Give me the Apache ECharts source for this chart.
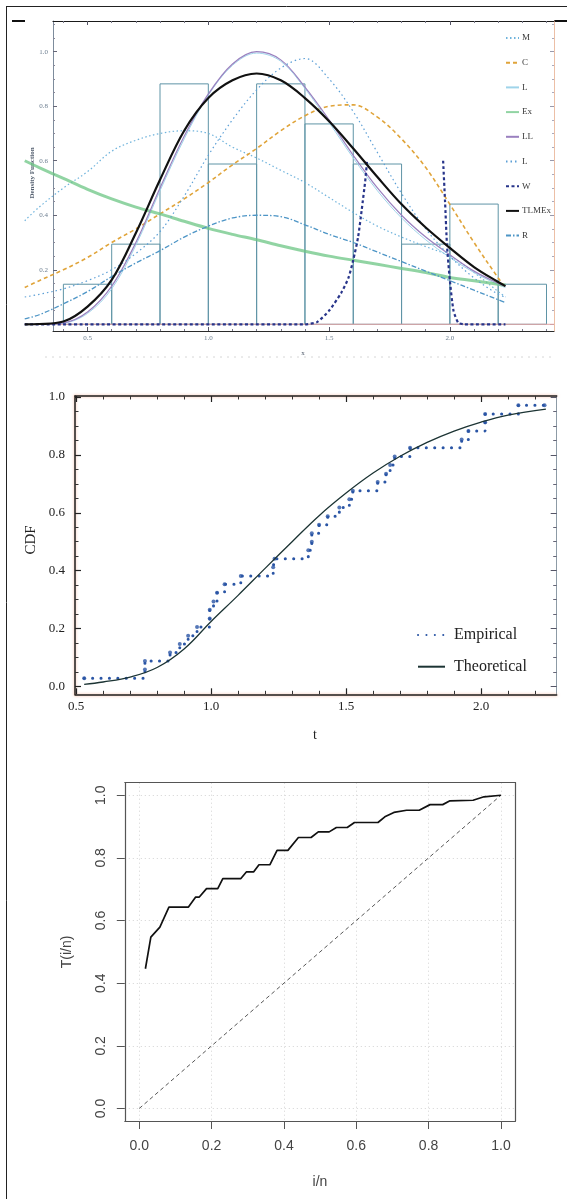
<!DOCTYPE html>
<html>
<head>
<meta charset="utf-8">
<script src="https://cdn.jsdelivr.net/npm/echarts@6/dist/echarts.min.js"></script>
<style>
  html, body { margin: 0; padding: 0; background: #fff; }
  #chart { width: 567px; height: 1199px; }
</style>
</head>
<body>
<div id="chart"></div>
<script>
// ---------------- Panel 1: fitted densities over the histogram ----------------
const binEdges   = [0.4, 0.6, 0.8, 1.0, 1.2, 1.4, 1.6, 1.8, 2.0, 2.2, 2.4];
const binDensity = [0.147, 0.294, 0.882, 0.588, 0.882, 0.735, 0.588, 0.294, 0.441, 0.147];

const densX     = [0.24, 0.3, 0.4, 0.5, 0.6, 0.7, 0.8, 0.9, 1.0, 1.1, 1.2, 1.3, 1.4, 1.5, 1.6, 1.7, 1.8, 1.9, 2.0, 2.1, 2.2, 2.23];
const densM     = [0.38, 0.43, 0.5, 0.56, 0.635, 0.675, 0.70, 0.71, 0.70, 0.65, 0.61, 0.565, 0.52, 0.465, 0.41, 0.36, 0.32, 0.285, 0.25, 0.19, 0.12, 0.10];
const densC     = [0.135, 0.16, 0.2, 0.245, 0.3, 0.35, 0.405, 0.46, 0.52, 0.585, 0.645, 0.71, 0.765, 0.80, 0.805, 0.76, 0.68, 0.575, 0.44, 0.30, 0.17, 0.135];
const densL     = [0.0, 0.0, 0.004, 0.04, 0.13, 0.29, 0.49, 0.68, 0.84, 0.95, 0.995, 0.965, 0.865, 0.74, 0.61, 0.49, 0.39, 0.31, 0.245, 0.19, 0.145, 0.135];
const densEx    = [0.6, 0.575, 0.535, 0.495, 0.46, 0.43, 0.405, 0.378, 0.352, 0.33, 0.31, 0.288, 0.268, 0.25, 0.235, 0.22, 0.205, 0.19, 0.172, 0.16, 0.147, 0.144];
const densLL    = [0.0, 0.0, 0.005, 0.045, 0.14, 0.30, 0.50, 0.69, 0.845, 0.955, 1.0, 0.97, 0.87, 0.75, 0.62, 0.50, 0.40, 0.32, 0.255, 0.195, 0.15, 0.14];
const densL2    = [0.10, 0.11, 0.13, 0.16, 0.20, 0.26, 0.34, 0.47, 0.62, 0.75, 0.86, 0.94, 0.975, 0.90, 0.78, 0.63, 0.48, 0.35, 0.25, 0.17, 0.11, 0.10];
const densTLMEx = [0.0, 0.001, 0.01, 0.065, 0.163, 0.335, 0.53, 0.71, 0.83, 0.895, 0.92, 0.895, 0.83, 0.745, 0.645, 0.54, 0.44, 0.355, 0.28, 0.21, 0.155, 0.14];
const densR     = [0.02, 0.035, 0.075, 0.12, 0.175, 0.225, 0.27, 0.32, 0.36, 0.39, 0.40, 0.395, 0.365, 0.33, 0.30, 0.265, 0.23, 0.195, 0.16, 0.125, 0.09, 0.08];

// Weibull fit: the parts above its own plot range are not drawn (null gap)
const wX = [0.24, 1.40, 1.45, 1.50, 1.55, 1.58, 1.60, 1.62, 1.635, 1.65, 1.657, 1.80, 1.972, 1.98, 1.988, 2.0, 2.015, 2.035, 2.06, 2.23];
const wY = [0, 0, 0.008, 0.05, 0.115, 0.17, 0.236, 0.32, 0.42, 0.53, 0.60, null, 0.60, 0.45, 0.29, 0.16, 0.05, 0.005, 0, 0];

const axisX0 = [0.24, 2.431];
const axisY0 = [0, 0];

const densXMajor = [0.5, 1.0, 1.5, 2.0];
const densYMajor = [0.2, 0.4, 0.6, 0.8, 1.0];

// ---------------- Panel 2: empirical vs theoretical CDF ----------------
const empT = [0.53, 0.755, 0.755, 0.848, 0.884, 0.915, 0.948, 0.995, 0.995, 1.009, 1.022, 1.05, 1.11, 1.23, 1.235, 1.36, 1.373, 1.373, 1.40, 1.432, 1.475, 1.512, 1.525, 1.617, 1.648, 1.663, 1.68, 1.737, 1.928, 1.953, 2.015, 2.015, 2.138, 2.235];
const empF = [0.029, 0.059, 0.088, 0.118, 0.147, 0.176, 0.206, 0.235, 0.265, 0.294, 0.324, 0.353, 0.382, 0.412, 0.441, 0.471, 0.5, 0.529, 0.559, 0.588, 0.618, 0.647, 0.676, 0.706, 0.735, 0.765, 0.794, 0.824, 0.853, 0.882, 0.912, 0.941, 0.971, 0.971];

const theoT = [0.53, 0.6, 0.7, 0.8, 0.9, 1.0, 1.1, 1.2, 1.3, 1.4, 1.5, 1.6, 1.7, 1.8, 1.9, 2.0, 2.1, 2.24];
const theoF = [0.008, 0.016, 0.033, 0.066, 0.13, 0.225, 0.315, 0.408, 0.5, 0.59, 0.668, 0.737, 0.795, 0.843, 0.882, 0.913, 0.937, 0.958];

const cdfXMajor = [0.5, 1.0, 1.5, 2.0];
const cdfYMajor = [0.0, 0.2, 0.4, 0.6, 0.8, 1.0];

// ---------------- Panel 3: scaled TTT plot ----------------
const tttX = [0.017, 0.032, 0.057, 0.082, 0.136, 0.156, 0.166, 0.186, 0.217, 0.231, 0.281, 0.296, 0.316, 0.331, 0.361, 0.381, 0.411, 0.44, 0.475, 0.495, 0.525, 0.545, 0.575, 0.595, 0.66, 0.679, 0.704, 0.739, 0.774, 0.804, 0.839, 0.859, 0.923, 0.953, 1.0];
const tttY = [0.446, 0.547, 0.579, 0.643, 0.643, 0.675, 0.675, 0.702, 0.702, 0.734, 0.734, 0.755, 0.755, 0.778, 0.778, 0.824, 0.824, 0.865, 0.865, 0.883, 0.883, 0.897, 0.897, 0.913, 0.913, 0.931, 0.945, 0.952, 0.952, 0.97, 0.97, 0.982, 0.984, 0.995, 1.0];
const diagX = [0, 1];
const diagY = [0, 1];
const tttTicks = [0.0, 0.2, 0.4, 0.6, 0.8, 1.0];

// ---------------- helpers ----------------
function seq(a, b, s) {
  const r = [];
  for (let v = a; v <= b + 1e-9; v += s) r.push(+v.toFixed(4));
  return r;
}
function without(list, majors) {
  return list.filter(v => !majors.some(m => Math.abs(m - v) < 1e-6));
}
function pairs(xs, ys) { return xs.map((x, i) => [x, ys[i]]); }

function axis(grid, pos, range, s) {
  return {
    type: 'value', gridIndex: grid, position: pos, min: range[0], max: range[1], show: s.hidden ? false : true,
    axisLine: s.line ? { show: true, onZero: false, lineStyle: s.line } : { show: false, onZero: false },
    axisTick: s.ticks ? { show: true, inside: !!s.inside, length: s.len, customValues: s.ticks,
      lineStyle: { color: s.tickColor, width: s.tickWidth || 1 } } : { show: false },
    axisLabel: s.labels ? Object.assign({ show: true, customValues: s.labels,
      formatter: v => (+v).toFixed(1) }, s.labelStyle) : { show: false },
    splitLine: s.split ? { show: true, lineStyle: s.split } : { show: false },
    minorTick: { show: false }, minorSplitLine: { show: false }
  };
}

const serif = '"Liberation Serif", "DejaVu Serif", serif';
const sans = '"Liberation Sans", Arial, sans-serif';

// ranges of the coordinate frames
const X0 = [0.357, 2.431], Y0 = [-0.0246, 1.1126];
const X1 = [0.496, 2.28],  Y1 = [-0.0265, 1.003];
const X2 = [-0.04, 1.04],  Y2 = [-0.04, 1.04];
// the fitted curves start left of the framed region, so they live on a wider grid
const X3 = [0.24, 2.431];
const pxPerUnit0 = 501 / (X0[1] - X0[0]);
const curveLeft = 53 - (X0[0] - X3[0]) * pxPerUnit0;

const p1Label = { fontSize: 7, color: '#6b7d8f', fontFamily: serif };
const p2Label = { fontSize: 13, color: '#222', fontFamily: serif };
const p3Label = { fontSize: 14, color: '#444', fontFamily: sans };

const xAxes = [
  // panel 1 frame
  axis(0, 'bottom', X0, { line: { color: '#2b2b2b', width: 1 }, ticks: densXMajor, inside: true, len: 4, tickColor: '#556',
    labels: densXMajor, labelStyle: Object.assign({ margin: 4 }, p1Label) }),
  axis(0, 'bottom', X0, { ticks: without(seq(0.4, 2.4, 0.1), densXMajor), inside: true, len: 2, tickColor: '#778' }),
  axis(0, 'top', X0, { line: { color: '#1a1a1a', width: 1.2 }, ticks: densXMajor, inside: true, len: 4, tickColor: '#556' }),
  axis(0, 'top', X0, { ticks: without(seq(0.4, 2.4, 0.1), densXMajor), inside: true, len: 2, tickColor: '#778' }),
  // panel 2
  axis(1, 'bottom', X1, { line: { color: '#1e1e1e', width: 1.5, shadowColor: 'rgba(240,120,70,0.55)', shadowBlur: 3 },
    ticks: cdfXMajor, inside: true, len: 6, tickColor: '#222', tickWidth: 1.2,
    labels: cdfXMajor, labelStyle: Object.assign({ margin: 6 }, p2Label) }),
  axis(1, 'bottom', X1, { ticks: without(seq(0.5, 2.2, 0.1), cdfXMajor), inside: true, len: 3.5, tickColor: '#333' }),
  axis(1, 'top', X1, { line: { color: '#1e1e1e', width: 1.5, shadowColor: 'rgba(240,120,70,0.55)', shadowBlur: 3 },
    ticks: cdfXMajor, inside: true, len: 6, tickColor: '#222', tickWidth: 1.2 }),
  axis(1, 'top', X1, { ticks: without(seq(0.5, 2.2, 0.1), cdfXMajor), inside: true, len: 3.5, tickColor: '#333' }),
  // panel 3
  axis(2, 'bottom', X2, { line: { color: '#555', width: 1.2 }, ticks: tttTicks, inside: false, len: 8, tickColor: '#555',
    labels: tttTicks, labelStyle: Object.assign({ margin: 18 }, p3Label),
    split: { color: '#d3d3d3', width: 1, type: [1, 3] } }),
  axis(2, 'top', X2, { line: { color: '#555', width: 1.2 } }),
  // panel 1 curves (hidden axis)
  axis(3, 'bottom', X3, { hidden: true })
];

const yAxes = [
  // panel 1 frame
  axis(0, 'left', Y0, { line: { color: '#7d8c9c', width: 1 }, ticks: [0].concat(densYMajor), inside: true, len: 4, tickColor: '#667',
    labels: densYMajor, labelStyle: Object.assign({ margin: 5 }, p1Label) }),
  axis(0, 'left', Y0, { ticks: without(seq(0, 1.1, 0.05), [0].concat(densYMajor)), inside: true, len: 2, tickColor: '#889' }),
  axis(0, 'right', Y0, { line: { color: '#ecbfa6', width: 1 }, ticks: [0].concat(densYMajor), inside: true, len: 4, tickColor: '#99a' }),
  axis(0, 'right', Y0, { ticks: without(seq(0, 1.1, 0.05), [0].concat(densYMajor)), inside: true, len: 2, tickColor: '#aab' }),
  // panel 2
  axis(1, 'left', Y1, { line: { color: '#1e1e1e', width: 1.5, shadowColor: 'rgba(240,120,70,0.55)', shadowBlur: 3 },
    ticks: cdfYMajor, inside: true, len: 6, tickColor: '#222', tickWidth: 1.2,
    labels: cdfYMajor, labelStyle: Object.assign({ margin: 10 }, p2Label) }),
  axis(1, 'left', Y1, { ticks: without(seq(0, 1, 0.05), cdfYMajor), inside: true, len: 3.5, tickColor: '#333' }),
  axis(1, 'right', Y1, { line: { color: '#8d9ba6', width: 1 }, ticks: cdfYMajor, inside: true, len: 6, tickColor: '#556' }),
  axis(1, 'right', Y1, { ticks: without(seq(0, 1, 0.05), cdfYMajor), inside: true, len: 3.5, tickColor: '#667' }),
  // panel 3
  axis(2, 'left', Y2, { line: { color: '#555', width: 1.2 }, ticks: tttTicks, inside: false, len: 8, tickColor: '#555',
    labels: tttTicks, labelStyle: Object.assign({ margin: 17, rotate: 90 }, p3Label),
    split: { color: '#d3d3d3', width: 1, type: [1, 3] } }),
  axis(2, 'right', Y2, { line: { color: '#555', width: 1.2 } }),
  // panel 1 curves (hidden axis)
  axis(3, 'left', Y0, { hidden: true })
];

// fitted density curve on panel 1
function curve(name, ys, lineStyle, z) {
  return {
    type: 'line', name: name, xAxisIndex: 10, yAxisIndex: 10,
    data: pairs(densX, ys), smooth: 0.35, symbol: 'none', clip: false,
    lineStyle: lineStyle, itemStyle: { color: lineStyle.color }, z: z || 3
  };
}

const series = [
  {
    type: 'custom', xAxisIndex: 0, yAxisIndex: 0, z: 2,
    data: binDensity.map((d, i) => [binEdges[i], binEdges[i + 1], d]),
    encode: { x: [0, 1], y: 2 },
    renderItem: function (params, api) {
      const a = api.coord([api.value(0), 0]);
      const b = api.coord([api.value(1), api.value(2)]);
      return { type: 'rect', shape: { x: a[0], y: b[1], width: b[0] - a[0], height: a[1] - b[1] },
        style: { fill: 'none', stroke: '#5f94a6', lineWidth: 1 } };
    }
  },
  { type: 'line', xAxisIndex: 10, yAxisIndex: 10, data: pairs(axisX0, axisY0), symbol: 'none', clip: false,
    lineStyle: { color: '#e2a3a3', width: 1 }, z: 2, silent: true },
  curve('M', densM, { color: '#6fb3dc', width: 1.2, type: [1.5, 2.5] }),
  curve('C', densC, { color: '#e0a43a', width: 1.6, type: [4, 3] }),
  curve('L', densL, { color: '#9fd4ea', width: 1 }),
  curve('Ex', densEx, { color: '#6cc684', width: 3, opacity: 0.75 }),
  curve('LL', densLL, { color: '#9a80bf', width: 1.2 }),
  curve('L ', densL2, { color: '#5c9fd6', width: 1.2, type: [1.5, 3] }),
  {
    type: 'line', name: 'W', xAxisIndex: 10, yAxisIndex: 10, data: pairs(wX, wY), smooth: 0.2,
    symbol: 'none', clip: false, connectNulls: false,
    lineStyle: { color: '#27348a', width: 2.2, type: [3, 2.5] }, itemStyle: { color: '#27348a' }, z: 4
  },
  curve('TLMEx', densTLMEx, { color: '#111', width: 2.2 }, 5),
  curve('R', densR, { color: '#4d95c6', width: 1.3, type: [5, 2, 1.5, 2] }),

  // panel 2
  {
    type: 'line', name: 'Empirical', xAxisIndex: 4, yAxisIndex: 4, data: pairs(empT, empF), step: 'end',
    symbol: 'none', lineStyle: { color: '#2a55a5', width: 3, type: [0.1, 8.3], cap: 'round' },
    itemStyle: { color: '#2a55a5' }, z: 3
  },
  {
    type: 'scatter', xAxisIndex: 4, yAxisIndex: 4, data: pairs(empT, empF), symbolSize: 4,
    itemStyle: { color: '#2a55a5' }, z: 3, silent: true
  },
  {
    type: 'line', name: 'Theoretical', xAxisIndex: 4, yAxisIndex: 4, data: pairs(theoT, theoF), smooth: 0.4,
    symbol: 'none', lineStyle: { color: '#1c3434', width: 1.3 }, itemStyle: { color: '#1c3434' }, z: 4
  },

  // panel 3
  {
    type: 'line', xAxisIndex: 8, yAxisIndex: 8, data: pairs(diagX, diagY), symbol: 'none',
    lineStyle: { color: '#444', width: 0.9, type: [4, 3] }, z: 3, silent: true
  },
  {
    type: 'line', xAxisIndex: 8, yAxisIndex: 8, data: pairs(tttX, tttY), symbol: 'none',
    lineStyle: { color: '#111', width: 1.7 }, z: 4, silent: true
  }
];

const option = {
  animation: false,
  backgroundColor: '#fff',
  grid: [
    { left: 53, top: 21, width: 501, height: 310 },
    { left: 75, top: 396, width: 481.7, height: 298.3 },
    { left: 124.8, top: 782.7, width: 390.6, height: 338.3 },
    { left: curveLeft, top: 21, width: 554 - curveLeft, height: 310 }
  ],
  xAxis: xAxes,
  yAxis: yAxes,
  legend: [
    {
      data: ['M', 'C', 'L', 'Ex', 'LL', 'L ', 'W', 'TLMEx', 'R'],
      orient: 'vertical', left: 500, top: 28, itemWidth: 13, itemHeight: 8, itemGap: 14.7,
      itemStyle: { opacity: 0, borderWidth: 0 },
      textStyle: { fontSize: 9, lineHeight: 10, color: '#3a3a3a', fontFamily: serif, padding: [0, 0, 0, -2] },
      selectedMode: false
    },
    {
      data: ['Empirical', 'Theoretical'],
      orient: 'vertical', left: 412, top: 621, itemWidth: 27, itemHeight: 10, itemGap: 13.7,
      itemStyle: { opacity: 0, borderWidth: 0 },
      textStyle: { fontSize: 16, lineHeight: 18, color: '#222', fontFamily: serif, padding: [0, 0, 0, 4] },
      selectedMode: false
    }
  ],
  graphic: [
    { type: 'line', shape: { x1: 6.5, y1: 6, x2: 6.5, y2: 1199 }, style: { stroke: '#222', lineWidth: 1 } },
    { type: 'line', shape: { x1: 6, y1: 6.5, x2: 567, y2: 6.5 }, style: { stroke: '#222', lineWidth: 1 } },
    { type: 'line', shape: { x1: 12, y1: 21, x2: 25, y2: 21 }, style: { stroke: '#111', lineWidth: 2 } },
    { type: 'line', shape: { x1: 554, y1: 21, x2: 567, y2: 21 }, style: { stroke: '#111', lineWidth: 2 } },
    { type: 'line', shape: { x1: 45, y1: 357, x2: 556, y2: 357 }, style: { stroke: '#d6d6d6', lineWidth: 1, lineDash: [2, 5] } },
    { type: 'text', x: 32, y: 173, rotation: Math.PI / 2,
      style: { text: 'Density Function', font: 'bold 7px ' + serif, fill: '#556070', align: 'center', verticalAlign: 'middle' } },
    { type: 'text', x: 303, y: 353,
      style: { text: 'x', font: '7px ' + serif, fill: '#556070', align: 'center', verticalAlign: 'middle' } },
    { type: 'text', x: 31, y: 540, rotation: Math.PI / 2,
      style: { text: 'CDF', font: '15px ' + serif, fill: '#222', align: 'center', verticalAlign: 'middle' } },
    { type: 'text', x: 315, y: 735,
      style: { text: 't', font: '14px ' + serif, fill: '#222', align: 'center', verticalAlign: 'middle' } },
    { type: 'text', x: 67, y: 952, rotation: Math.PI / 2,
      style: { text: 'T(i/n)', font: '14px ' + sans, fill: '#444', align: 'center', verticalAlign: 'middle' } },
    { type: 'text', x: 320, y: 1182,
      style: { text: 'i/n', font: '14px ' + sans, fill: '#444', align: 'center', verticalAlign: 'middle' } }
  ],
  series: series
};

const chart = echarts.init(document.getElementById('chart'), null, { renderer: 'canvas' });
chart.setOption(option);
</script>
</body>
</html>
